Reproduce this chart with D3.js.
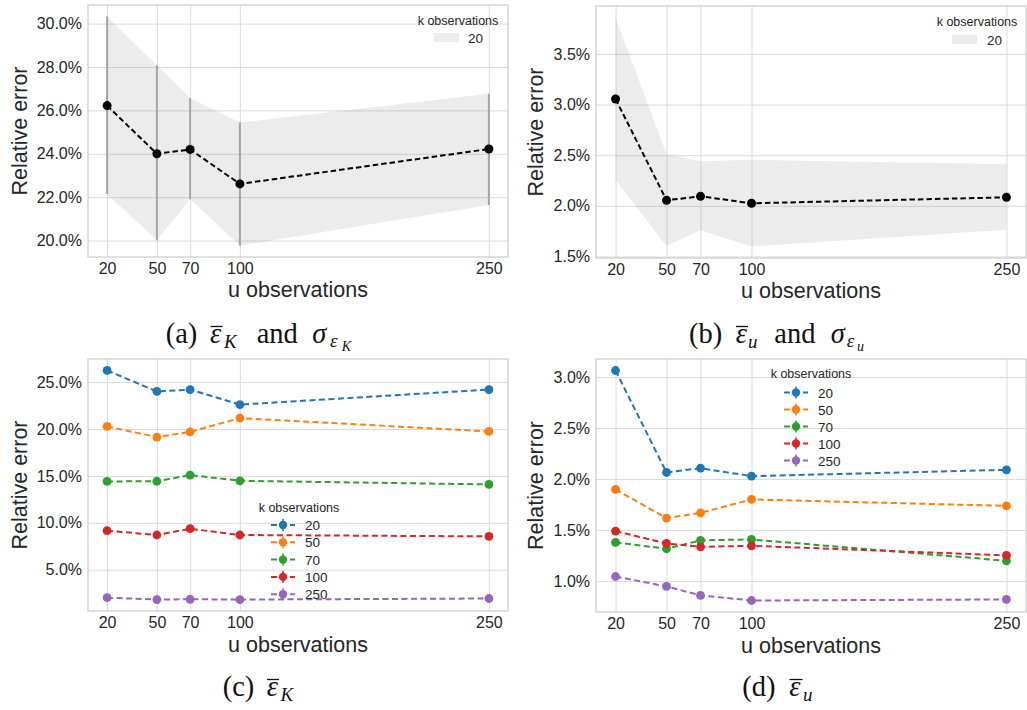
<!DOCTYPE html>
<html><head><meta charset="utf-8">
<script src="https://cdn.jsdelivr.net/npm/d3@7"></script>
<style>body{margin:0;background:#fff}svg{display:block}</style>
</head><body>
<svg id="fig" width="1027" height="710"></svg>
<script>
// ---------- data ----------
const uObs = [20, 50, 70, 100, 250];
const uTickLabels = ["20", "50", "70", "100", "250"];
const kLabels = ["20", "50", "70", "100", "250"];
const seriesColors = ["#1f77b4", "#ff7f0e", "#2ca02c", "#d62728", "#9467bd"];

// (a) mean relative error of K, k = 20, with +/- std band
const aMean  = [26.22, 24.00, 24.20, 22.61, 24.22];
const aUpper = [30.33, 28.07, 26.57, 25.44, 26.77];
const aLower = [22.14, 20.01, 21.91, 19.77, 21.64];
const aYTicks = [20, 22, 24, 26, 28, 30];

// (b) mean relative error of u, k = 20, with +/- std band
const bMean  = [3.055, 2.055, 2.094, 2.025, 2.084];
const bUpper = [3.86, 2.513, 2.44, 2.454, 2.41];
const bLower = [2.258, 1.604, 1.758, 1.598, 1.765];
const bYTicks = [1.5, 2.0, 2.5, 3.0, 3.5];

// (c) mean relative error of K per k
const cK20  = [26.24, 24.00, 24.20, 22.60, 24.20];
const cK50  = [20.27, 19.14, 19.70, 21.16, 19.74];
const cK70  = [14.41, 14.43, 15.09, 14.48, 14.09];
const cK100 = [9.16, 8.70, 9.37, 8.70, 8.55];
const cK250 = [2.02, 1.82, 1.85, 1.82, 1.93];
const cYTicks = [5, 10, 15, 20, 25];

// (d) mean relative error of u per k
const dK20  = [3.063, 2.064, 2.106, 2.028, 2.090];
const dK50  = [1.898, 1.617, 1.669, 1.800, 1.737];
const dK70  = [1.379, 1.317, 1.399, 1.408, 1.199];
const dK100 = [1.490, 1.369, 1.336, 1.346, 1.252];
const dK250 = [1.045, 0.948, 0.860, 0.810, 0.820];
const dYTicks = [1.0, 1.5, 2.0, 2.5, 3.0];

// ---------- helpers ----------
const svg = d3.select("#fig");
const SANS = "'Liberation Sans', Arial, sans-serif";
const SERIF = "'Liberation Serif', 'Times New Roman', serif";
const TXT = "#262626";
const GRID = "#dadada";
const FRAME = "#cccccc";
const fmt1 = d3.format(".1f");

function padExtent(vals) {
  const lo = d3.min(vals), hi = d3.max(vals), r = hi - lo;
  return [lo - 0.05 * r, hi + 0.05 * r];
}

function panel(box, extentVals, yTicks, xLabBase, yLabX) {
  const xs = d3.scaleLinear()
    .domain([uObs[0] - 0.05 * (uObs[4] - uObs[0]), uObs[4] + 0.05 * (uObs[4] - uObs[0])])
    .range([box.x0, box.x1]);
  const ys = d3.scaleLinear().domain(padExtent(extentVals)).range([box.y1, box.y0]);
  const g = svg.append("g");
  const w = box.x1 - box.x0, h = box.y1 - box.y0;

  const gy = g.append("g").attr("transform", `translate(${box.x0},0)`)
    .call(d3.axisLeft(ys).tickValues(yTicks).tickSizeInner(-w).tickSizeOuter(0)
      .tickPadding(6).tickFormat(d => fmt1(d) + "%"));
  const gx = g.append("g").attr("transform", `translate(0,${box.y1})`)
    .call(d3.axisBottom(xs).tickValues(uObs).tickSizeInner(-h).tickSizeOuter(0)
      .tickPadding(5.6).tickFormat((d, i) => uTickLabels[i]));
  [gy, gx].forEach(a => {
    a.select(".domain").remove();
    a.selectAll("line").attr("stroke", GRID).attr("stroke-width", 1);
    a.selectAll("text").attr("fill", TXT).style("font-family", SANS).style("font-size", "16px");
  });

  const layer = g.append("g");
  g.append("rect").attr("x", box.x0).attr("y", box.y0).attr("width", w).attr("height", h)
    .attr("fill", "none").attr("stroke", FRAME).attr("stroke-width", 1.2);

  g.append("text").attr("x", (box.x0 + box.x1) / 2).attr("y", xLabBase)
    .attr("text-anchor", "middle").attr("fill", TXT)
    .style("font-family", SANS).style("font-size", "21.5px").text("u observations");
  g.append("text").attr("transform", `translate(${yLabX},${(box.y0 + box.y1) / 2}) rotate(-90)`)
    .attr("text-anchor", "middle").attr("fill", TXT)
    .style("font-family", SANS).style("font-size", "21.5px").text("Relative error");
  return { xs, ys, layer };
}

function bandPanel(P, mean, lower, upper, withBars) {
  const idx = d3.range(uObs.length);
  const area = d3.area().x(i => P.xs(uObs[i])).y0(i => P.ys(lower[i])).y1(i => P.ys(upper[i]));
  P.layer.append("path").datum(idx).attr("d", area).attr("fill", "#808080").attr("fill-opacity", 0.15);
  if (withBars) {
    P.layer.selectAll(".eb").data(idx).join("line")
      .attr("x1", i => P.xs(uObs[i])).attr("x2", i => P.xs(uObs[i]))
      .attr("y1", i => P.ys(lower[i])).attr("y2", i => P.ys(upper[i]))
      .attr("stroke", "#a6a6a6").attr("stroke-width", 2);
  }
  const line = d3.line().x(i => P.xs(uObs[i])).y(i => P.ys(mean[i]));
  P.layer.append("path").datum(idx).attr("d", line).attr("fill", "none")
    .attr("stroke", "#000").attr("stroke-width", 2).attr("stroke-dasharray", "5.5,3");
  P.layer.selectAll(".pt").data(idx).join("circle")
    .attr("cx", i => P.xs(uObs[i])).attr("cy", i => P.ys(mean[i])).attr("r", 4.5).attr("fill", "#000");
}

function bandLegend(titleCx, titleBase, px0, py0, labX) {
  svg.append("text").attr("x", titleCx).attr("y", titleBase).attr("text-anchor", "middle")
    .attr("fill", TXT).style("font-family", SANS).style("font-size", "12.5px").text("k observations");
  svg.append("rect").attr("x", px0).attr("y", py0).attr("width", 25).attr("height", 9)
    .attr("fill", "#808080").attr("fill-opacity", 0.15);
  svg.append("text").attr("x", labX).attr("y", py0 + 9.5).attr("fill", TXT)
    .style("font-family", SANS).style("font-size", "13.5px").text(kLabels[0]);
}

function multiPanel(P, series) {
  series.forEach((vals, s) => {
    const idx = d3.range(uObs.length);
    const line = d3.line().x(i => P.xs(uObs[i])).y(i => P.ys(vals[i]));
    P.layer.append("path").datum(idx).attr("d", line).attr("fill", "none")
      .attr("stroke", seriesColors[s]).attr("stroke-width", 2).attr("stroke-dasharray", "6,3.5");
    P.layer.append("g").selectAll("circle").data(idx).join("circle")
      .attr("cx", i => P.xs(uObs[i])).attr("cy", i => P.ys(vals[i])).attr("r", 4.4)
      .attr("fill", seriesColors[s]);
  });
}

function multiLegend(titleCx, titleBase, lx0, ly0, step, labX) {
  svg.append("text").attr("x", titleCx).attr("y", titleBase).attr("text-anchor", "middle")
    .attr("fill", TXT).style("font-family", SANS).style("font-size", "12.5px").text("k observations");
  kLabels.forEach((lab, i) => {
    const yy = ly0 + i * step;
    const g = svg.append("g");
    g.append("line").attr("x1", lx0).attr("x2", lx0 + 24).attr("y1", yy).attr("y2", yy)
      .attr("stroke", seriesColors[i]).attr("stroke-width", 2).attr("stroke-dasharray", "6,3.5");
    g.append("line").attr("x1", lx0 + 12).attr("x2", lx0 + 12).attr("y1", yy - 6).attr("y2", yy + 6)
      .attr("stroke", seriesColors[i]).attr("stroke-width", 1.5);
    g.append("circle").attr("cx", lx0 + 12).attr("cy", yy).attr("r", 4.2).attr("fill", seriesColors[i]);
    g.append("text").attr("x", labX).attr("y", yy + 5).attr("fill", TXT)
      .style("font-family", SANS).style("font-size", "13.5px").text(lab);
  });
}

function caption(pieces) {
  pieces.forEach(p => {
    svg.append("text").attr("x", p.x).attr("y", p.y).attr("fill", "#111")
      .style("font-family", SERIF).style("font-size", p.size + "px")
      .style("font-style", p.it ? "italic" : "normal").text(p.t);
    if (p.over) {
      svg.append("line").attr("x1", p.over[0]).attr("x2", p.over[1])
        .attr("y1", p.over[2]).attr("y2", p.over[2]).attr("stroke", "#111").attr("stroke-width", 1.3);
    }
  });
}

// ---------- panels ----------
const PA = panel({ x0: 88, x1: 508, y0: 5, y1: 257 }, aLower.concat(aUpper), aYTicks, 297, 27);
bandPanel(PA, aMean, aLower, aUpper, true);
bandLegend(458, 25, 434, 33, 468);

const PB = panel({ x0: 596, x1: 1026, y0: 6, y1: 258 }, bLower.concat(bUpper), bYTicks, 298, 543);
bandPanel(PB, bMean, bLower, bUpper, false);
bandLegend(977, 26, 952, 35, 987);

const cSeries = [cK20, cK50, cK70, cK100, cK250];
const PC = panel({ x0: 88, x1: 508, y0: 359, y1: 611 }, cSeries.flat(), cYTicks, 652, 27);
multiPanel(PC, cSeries);
multiLegend(299, 512, 271, 525, 17.3, 305);

const dSeries = [dK20, dK50, dK70, dK100, dK250];
const PD = panel({ x0: 596, x1: 1026, y0: 359, y1: 612 }, dSeries.flat(), dYTicks, 653, 543);
multiPanel(PD, dSeries);
multiLegend(811, 378, 784, 392.5, 17.0, 818);

// ---------- captions ----------
caption([
  { t: "(a)", x: 165.7, y: 343, size: 28.5 },
  { t: "ε", x: 210, y: 343, size: 28.5, it: true, over: [210.5, 222.5, 326.5] },
  { t: "K", x: 224, y: 348, size: 19, it: true },
  { t: "and", x: 256.7, y: 343, size: 28.5 },
  { t: "σ", x: 312.3, y: 343, size: 28.5, it: true },
  { t: "ε", x: 330, y: 346.7, size: 19, it: true },
  { t: "K", x: 341.7, y: 350.5, size: 14, it: true }
]);
caption([
  { t: "(b)", x: 689, y: 343, size: 28.5 },
  { t: "ε", x: 735.7, y: 343, size: 28.5, it: true, over: [736, 748, 326.5] },
  { t: "u", x: 748, y: 348, size: 19, it: true },
  { t: "and", x: 774.3, y: 343, size: 28.5 },
  { t: "σ", x: 830.7, y: 343, size: 28.5, it: true },
  { t: "ε", x: 846.7, y: 346.7, size: 19, it: true },
  { t: "u", x: 857, y: 350.5, size: 14, it: true }
]);
caption([
  { t: "(c)", x: 222.7, y: 695.5, size: 28.5 },
  { t: "ε", x: 266.7, y: 695.5, size: 28.5, it: true, over: [267, 279, 679.5] },
  { t: "K", x: 280.5, y: 700.5, size: 19, it: true }
]);
caption([
  { t: "(d)", x: 742.3, y: 695.5, size: 28.5 },
  { t: "ε", x: 789.3, y: 695.5, size: 28.5, it: true, over: [789.5, 802.5, 679.5] },
  { t: "u", x: 803, y: 700.5, size: 19, it: true }
]);
</script>
</body></html>
